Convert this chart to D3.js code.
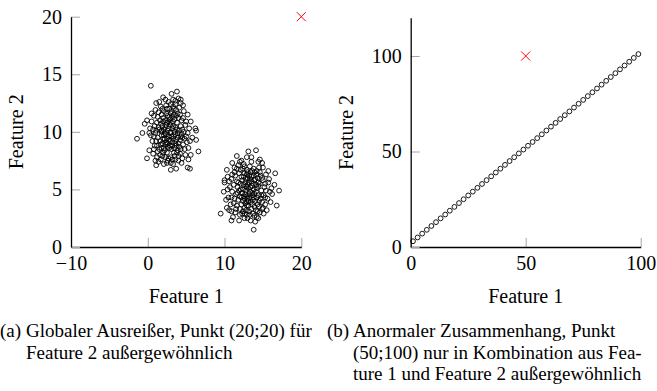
<!DOCTYPE html>
<html>
<head>
<meta charset="utf-8">
<script src="https://cdn.jsdelivr.net/npm/d3@7"></script>
<style>
  html, body { margin: 0; padding: 0; background: #fff; }
  svg text { font-family: "Liberation Serif", "Times New Roman", Times, serif; fill: #000; }
</style>
</head>
<body>
<svg id="chart" width="657" height="391"></svg>
<script>
// ---- (a) two clusters plus a global outlier ----
const clusterA = [
  [0.4,14.0],[3.8,13.5],[3.1,13.3],[2.0,13.0],[1.1,12.5],[4.3,12.8],[4.3,12.5],[3.6,12.7],[2.7,12.6],[1.7,12.2],
  [-1.4,9.4],[-0.7,9.9],[-0.4,10.7],[-0.1,11.0],[-0.1,7.7],[1.0,7.5],[1.1,7.1],[3.0,6.7],[3.7,6.8],[5.2,6.9],
  [5.5,6.8],[6.6,8.3],[6.3,9.3],[6.2,10.3],[6.3,10.1],[5.6,10.9],[0.5,11.6],[0.8,11.4],[0.3,10.3],[0.6,9.2],
  [0.2,8.4],[0.7,8.1],[1.4,7.4],[2.1,7.2],[2.5,7.3],[3.3,7.2],[4.0,7.5],[4.5,7.7],[4.9,8.0],[5.3,8.6],
  [5.5,9.2],[5.0,9.6],[5.4,10.3],[4.9,10.6],[4.6,11.2],[4.7,11.8],[4.1,12.1],[3.7,11.9],[0.9,8.8],[0.4,9.7],
  [1.2,10.8],[1.5,10.2],[1.8,9.7],[2.2,9.4],[2.6,10.1],[2.9,10.6],[3.3,10.9],[3.6,10.4],[3.9,9.9],[4.2,9.3],
  [1.7,8.9],[2.1,8.6],[2.5,8.2],[2.9,8.8],[3.2,9.1],[3.5,8.6],[3.8,8.2],[4.1,8.7],[4.4,9.8],[4.3,10.5],
  [2.0,11.2],[2.4,11.6],[2.8,11.3],[3.1,11.8],[3.4,11.5],[1.3,9.5],[1.0,9.9],[0.9,10.5],[1.6,11.0],[2.3,10.4],
  [2.7,9.6],[3.0,10.0],[3.4,9.6],[3.7,9.3],[2.2,9.9],[1.9,10.5],[2.5,10.8],[3.2,10.3],[3.8,10.8],[4.0,11.2],
  [2.6,9.0],[2.0,8.2],[1.5,8.5],[1.2,8.8],[3.0,7.8],[3.5,7.9],[4.2,8.1],[4.6,8.9],[4.8,9.4],[1.4,11.7],
  [2.8,12.0],[3.3,12.2],[1.9,12.0],[2.4,12.3],[3.6,12.4],[1.6,9.2],[1.9,9.0],[2.3,8.9],[2.8,9.3],[3.1,8.5],
  [3.4,8.2],[3.7,8.8],[4.0,9.0],[4.3,9.6],[4.1,10.1],[3.8,10.2],[3.5,10.0],[3.1,9.6],[2.9,9.9],[2.5,9.4],
  [2.1,9.7],[1.8,10.1],[1.4,10.4],[1.7,10.7],[2.0,10.9],[2.3,11.0],[2.6,11.4],[2.9,11.1],[3.2,11.3],[3.5,11.1],
  [3.7,11.4],[3.9,11.6],[4.2,11.5],[4.4,11.0],[4.5,10.2],[4.7,10.0],[4.5,9.5],[4.3,8.5],[3.9,8.4],[3.6,7.6],
  [3.2,7.6],[2.7,7.7],[2.3,7.8],[1.9,7.9],[1.6,8.0],[1.3,8.3],[1.1,9.2],[0.8,9.6],[0.7,10.2],[1.1,10.1],
  [1.3,11.3],[1.8,11.5],[2.1,11.8],[2.5,12.0],[3.0,12.4],[3.4,12.0],[3.0,11.6],[2.7,10.9],[2.4,10.6],[2.1,10.2],
  [1.8,10.0],[2.0,9.4],[2.4,9.1],[2.8,8.6],[3.2,8.8],[3.6,9.0],[3.9,9.5],[3.6,9.8],[3.3,10.5],[3.0,10.8],
  [2.7,10.3],[2.4,9.8],[2.9,9.2],[3.3,9.4],[2.6,8.7],[2.2,8.4],[1.8,8.6],[3.0,7.3],[2.6,7.5],[4.0,7.9],
  [4.8,8.5],[5.1,9.1],[5.2,9.9],[5.0,10.9],[5.2,11.5],[0.5,10.9],[0.2,9.9],[1.0,11.9],[1.5,12.6],[4.6,12.3],
  [1.2,7.8],[0.8,8.5],[5.6,8.0],[5.8,9.5],[2.3,12.8],[3.3,12.8],[4.0,12.9],[1.7,7.6],[4.4,7.3],[5.3,7.6]
];

const clusterB = [
  [14.1,8.4],[13.1,8.3],[11.6,7.9],[10.3,6.7],[16.6,6.4],[16.5,5.4],[17.1,4.9],[16.8,3.6],[13.8,1.5],[10.9,2.3],
  [9.5,2.9],[10.3,3.4],[10.9,3.1],[14.2,2.6],[14.4,2.5],[15.0,3.4],[10.0,5.8],[10.0,5.6],[9.9,4.8],[12.0,7.4],
  [12.5,7.2],[13.5,7.4],[14.4,7.4],[15.0,6.9],[15.4,6.3],[15.7,5.6],[15.9,4.8],[15.6,4.2],[15.3,3.7],[14.6,3.0],
  [13.3,2.8],[12.6,2.9],[12.0,2.8],[11.4,3.0],[10.8,3.7],[10.5,4.3],[10.4,5.0],[10.6,5.7],[11.0,6.3],[11.3,6.9],
  [11.9,2.3],[13.0,2.5],[15.8,5.9],[16.1,5.1],[12.9,7.8],[11.8,7.1],[14.9,7.3],[10.2,4.1],[15.1,2.9],[11.1,2.6],
  [12.1,5.5],[12.4,5.0],[12.7,4.6],[13.0,4.2],[13.3,4.8],[13.6,5.3],[13.9,5.8],[14.2,5.1],[14.4,4.5],[14.0,4.0],
  [12.2,6.1],[12.6,6.4],[13.0,6.0],[13.4,6.5],[13.8,6.2],[14.3,6.0],[11.7,5.2],[11.5,4.6],[11.8,4.1],[12.2,3.7],
  [12.6,3.4],[13.1,3.6],[13.5,3.3],[13.9,3.5],[14.3,3.7],[14.7,4.2],[14.8,4.9],[14.6,5.5],[14.7,6.2],[12.9,5.2],
  [13.2,5.6],[12.8,5.9],[12.5,5.4],[12.3,4.7],[12.6,4.2],[13.3,4.3],[13.6,4.7],[13.7,4.1],[13.4,3.9],[12.9,3.9],
  [12.0,4.4],[11.9,4.9],[11.6,5.7],[11.9,6.4],[12.4,6.8],[12.9,6.7],[13.3,7.0],[13.8,6.8],[14.2,6.6],[14.5,6.9],
  [11.4,6.2],[11.2,5.4],[11.0,4.8],[11.3,4.2],[11.6,3.6],[12.0,3.3],[12.4,3.1],[12.8,3.2],[13.2,3.1],[13.7,2.9],
  [14.1,3.2],[14.5,3.5],[14.9,3.9],[15.1,4.5],[15.2,5.2],[15.0,5.8],[14.4,5.6],[14.1,5.4],[13.8,5.0],[13.5,5.7],
  [13.1,5.1],[12.8,4.9],[12.5,4.4],[12.9,4.4],[13.2,4.6],[13.6,4.5],[13.9,4.6],[14.1,4.8],[14.2,4.3],[13.8,4.3],
  [12.3,5.8],[12.7,5.6],[13.0,5.4],[13.4,5.2],[13.7,5.5],[14.0,5.9],[13.5,6.1],[13.2,6.2],[12.9,6.3],[12.5,6.1],
  [12.1,5.0],[11.8,5.6],[12.1,6.7],[12.6,7.0],[13.6,6.6],[14.2,6.3],[14.6,6.5],[14.9,6.0],[15.3,5.5],[15.4,4.9],
  [15.3,4.3],[14.9,3.3],[14.3,3.1],[13.9,2.7],[12.9,2.8],[12.3,2.9],[11.5,3.3],[11.2,3.8],[10.9,4.3],[10.7,5.2],
  [10.9,5.9],[11.3,6.5],[11.6,6.8],[14.6,7.6],[13.5,7.8],[12.2,7.5],[16.2,4.6],[15.7,6.6],[10.4,6.1],[10.6,3.2],
  [13.4,2.3],[14.0,2.2],[12.6,2.5],[15.5,3.2],[16.0,3.9],[11.0,7.3],[12.9,3.6],[13.3,5.9],[12.4,4.0],[14.5,4.0],
  [12.8,5.3],[13.1,4.0],[13.6,3.7],[12.2,4.3],[14.4,5.3],[13.0,6.5],[12.7,3.8],[13.9,6.5],[11.7,4.7],[14.8,4.5]
];

const outlierA = [20, 20];
const xTicksA = [-10, 0, 10, 20];
const yTicksA = [0, 5, 10, 15, 20];
const xDomainA = [-10, 20];
const yDomainA = [0, 20];

// ---- (b) linear relation plus a contextual outlier ----
const lineX = [1,3,5,7,9,11,13,15,17,19,21,23,25,27,29,31,33,35,37,39,41,43,45,47,49,
               51,53,55,57,59,61,63,65,67,69,71,73,75,77,79,81,83,85,87,89,91,93,95,97,99];
const lineY = [3,5,7,9,11,13,15,17,19,21,23,25,27,29,31,33,35,37,39,41,43,45,47,49,51,
               53,55,57,59,61,63,65,67,69,71,73,75,77,79,81,83,85,87,89,91,93,95,97,99,101];
const outlierB = [50, 100];
const xTicksB = [0, 50, 100];
const yTicksB = [0, 50, 100];
const xDomainB = [0, 100];
const yDomainB = [0, 120];

const xLabel = "Feature 1";
const yLabel = "Feature 2";
const captionA = ["(a)", "Globaler Ausreißer, Punkt (20;20) für", "Feature 2 außergewöhnlich"];
const captionB = ["(b)", "Anormaler Zusammenhang, Punkt", "(50;100) nur in Kombination aus Fea-", "ture 1 und Feature 2 außergewöhnlich"];

const svg = d3.select("#chart");
const SERIF = '"Liberation Serif", "Times New Roman", Times, serif';
const FONT = 20;

function panel(opts) {
  const { left, right, top, bottom, xDomain, yDomain, xTicks, yTicks, points, outlier, labelX } = opts;
  const x = d3.scaleLinear().domain(xDomain).range([left, right]);
  const y = d3.scaleLinear().domain(yDomain).range([bottom, top]);
  const g = svg.append("g");

  const xAxis = d3.axisBottom(x).tickValues(xTicks).tickSizeInner(-9).tickSizeOuter(0).tickPadding(9)
    .tickFormat(d3.format("d"));
  const yAxis = d3.axisLeft(y).tickValues(yTicks).tickSizeInner(-9).tickSizeOuter(0).tickPadding(9)
    .tickFormat(d3.format("d"));

  const gx = g.append("g").attr("transform", `translate(0,${bottom})`).call(xAxis);
  const gy = g.append("g").attr("transform", `translate(${left},0)`).call(yAxis);
  [gx, gy].forEach(a => {
    a.attr("font-family", null).attr("font-size", null);
    a.selectAll(".tick line").attr("stroke", "#a6a6a6").attr("stroke-width", 1);
    a.selectAll(".tick text").style("font-size", FONT + "px").style("font-family", SERIF);
    a.select(".domain").attr("stroke", "#000").attr("stroke-width", 1.3);
  });
  gx.select(".domain").raise();
  gy.select(".domain").raise();

  // data marks
  g.append("g").selectAll("circle").data(points).join("circle")
    .attr("cx", d => x(d[0])).attr("cy", d => y(d[1])).attr("r", 2.4)
    .attr("fill", "none").attr("stroke", "#000").attr("stroke-width", 0.9);

  const s = 4.5;
  const ox = x(outlier[0]), oy = y(outlier[1]);
  g.append("path")
    .attr("d", `M${ox - s},${oy - s}L${ox + s},${oy + s}M${ox - s},${oy + s}L${ox + s},${oy - s}`)
    .attr("stroke", "#ff0000").attr("stroke-width", 1).attr("fill", "none");

  // axis titles
  g.append("text").attr("x", (left + right) / 2).attr("y", 303)
    .attr("text-anchor", "middle").style("font-size", FONT + "px").style("font-family", SERIF).text(xLabel);
  g.append("text").attr("transform", `translate(${labelX},${(top + bottom) / 2}) rotate(-90)`)
    .attr("text-anchor", "middle").style("font-size", FONT + "px").style("font-family", SERIF).text(yLabel);
}

panel({
  left: 71, right: 301.3, top: 16.7, bottom: 247,
  xDomain: xDomainA, yDomain: yDomainA, xTicks: xTicksA, yTicks: yTicksA,
  points: clusterA.concat(clusterB), outlier: outlierA, labelX: 22.5
});

panel({
  left: 410.7, right: 640.7, top: 17.8, bottom: 247,
  xDomain: xDomainB, yDomain: yDomainB, xTicks: xTicksB, yTicks: yTicksB,
  points: lineX.map((v, i) => [v, lineY[i]]), outlier: outlierB, labelX: 352.7
});

// sub-captions: label, then a ragged-right paragraph with hanging indent
function caption(lines, x0, indent) {
  const CAP = 19, LEAD = 21.5, BASE = 337;
  const t = svg.append("g").style("font-size", CAP + "px").style("font-family", SERIF);
  t.append("text").attr("x", x0).attr("y", BASE).text(lines[0]);
  lines.slice(1).forEach((ln, i) => {
    t.append("text").attr("x", x0 + indent).attr("y", BASE + i * LEAD).text(ln);
  });
}
caption(captionA, 0, 26);
caption(captionB, 327, 26);
</script>
</body>
</html>
